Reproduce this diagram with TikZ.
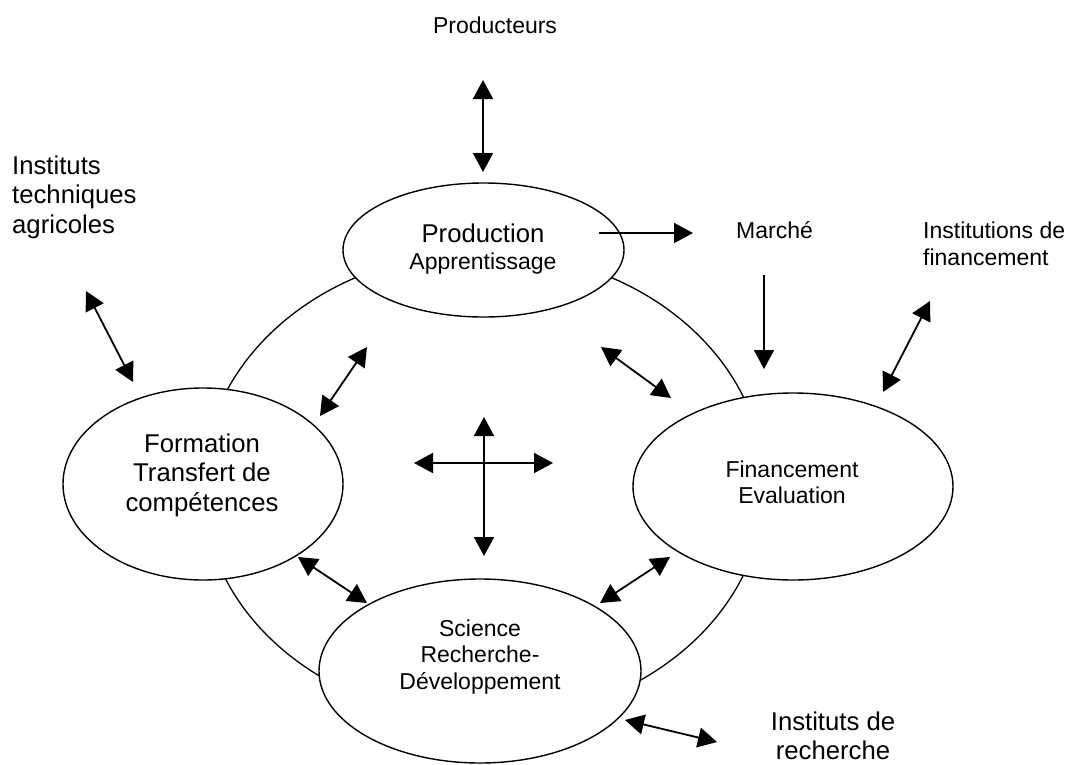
\documentclass[tikz,border=0pt]{standalone}
\usepackage{fontspec}
\setmainfont{Liberation Sans}
\usetikzlibrary{shapes.geometric,arrows.meta}
\newcommand{\bigtxt}{\fontsize{25.7}{29.5}\selectfont}
\newcommand{\smtxt}{\fontsize{23}{27}\selectfont}
\begin{document}
\begin{tikzpicture}[x=1pt,y=-1pt,
  oval/.style={ellipse, draw, line width=1.4pt, fill=white, inner sep=0pt},
  tipa/.tip={Triangle[length=19pt,width=20pt]},
  link/.style={line width=1.8pt, -tipa},
  dlink/.style={line width=1.8pt, tipa-tipa},
  lbl/.style={inner sep=0pt, anchor=base}]
\useasboundingbox (0,0) rectangle (1069,764);
% outer ring
\node[ellipse, draw, line width=1.3pt, minimum width=562pt, minimum height=468pt, inner sep=0pt] (ring) at (483.5,486) {};
% ellipses
\node[oval, minimum width=281pt, minimum height=134pt] (prod) at (483.5,250) {};
\node[oval, minimum width=280pt, minimum height=192pt] (form) at (203,484) {};
\node[oval, minimum width=320pt, minimum height=187pt] (fin) at (793,486.5) {};
\node[oval, minimum width=322pt, minimum height=184pt] (sci) at (480,671) {};
% texts
\node[lbl] (tprod) at (483,242) {\smtxt\begin{tabular}[t]{@{}c@{}}{\bigtxt Production}\\Apprentissage\end{tabular}};
\node[lbl] (tform) at (202,452) {\bigtxt\begin{tabular}[t]{@{}c@{}}Formation\\Transfert de\\compétences\end{tabular}};
\node[lbl] (tfin) at (792,477) {\fontsize{23}{26}\selectfont\begin{tabular}[t]{@{}c@{}}Financement\\Evaluation\end{tabular}};
\node[lbl] (tsci) at (480,636) {\fontsize{23}{26.5}\selectfont\begin{tabular}[t]{@{}c@{}}Science\\Recherche-\\Développement\end{tabular}};
\node[lbl] (tpcr) at (495,33) {\smtxt Producteurs};
\node[lbl, anchor=base west] (tita) at (12,174) {\bigtxt\begin{tabular}[t]{@{}l@{}}Instituts\\techniques\\agricoles\end{tabular}};
\node[lbl, anchor=base west] (tmar) at (736,238) {\smtxt Marché};
\node[lbl, anchor=base west] (tifi) at (923,238) {\smtxt\begin{tabular}[t]{@{}l@{}}Institutions de\\financement\end{tabular}};
\node[lbl] (tire) at (833,730) {\bigtxt\begin{tabular}[t]{@{}c@{}}Instituts de\\recherche\end{tabular}};
% arrow end points
\coordinate (p1a) at (483,80);  \coordinate (p1b) at (483,172);
\coordinate (p2a) at (86,291);  \coordinate (p2b) at (133,382);
\coordinate (p3a) at (599,233); \coordinate (p3b) at (693,233);
\coordinate (p4a) at (764,275); \coordinate (p4b) at (764,369);
\coordinate (p5a) at (930,301); \coordinate (p5b) at (883,392);
\coordinate (p6a) at (320,416); \coordinate (p6b) at (367,347);
\coordinate (p7a) at (601,347); \coordinate (p7b) at (671,398);
\coordinate (c1) at (484,417);  \coordinate (c2) at (484,556);
\coordinate (c3) at (414,463);  \coordinate (c4) at (553,463);
\coordinate (p9a) at (298,557); \coordinate (p9b) at (367,603);
\coordinate (p10a) at (600,603); \coordinate (p10b) at (670,557);
\coordinate (p11a) at (625,720); \coordinate (p11b) at (717,742);
% arrows
\draw[dlink] (p1a) -- (p1b);
\draw[dlink] (p2a) -- (p2b);
\draw[link] (p3a) -- (p3b);
\draw[link] (p4a) -- (p4b);
\draw[dlink] (p5a) -- (p5b);
\draw[dlink] (p6a) -- (p6b);
\draw[dlink] (p7a) -- (p7b);
\draw[dlink] (c1) -- (c2);
\draw[dlink] (c3) -- (c4);
\draw[dlink] (p9a) -- (p9b);
\draw[dlink] (p10a) -- (p10b);
\draw[dlink] (p11a) -- (p11b);
\end{tikzpicture}
\end{document}
